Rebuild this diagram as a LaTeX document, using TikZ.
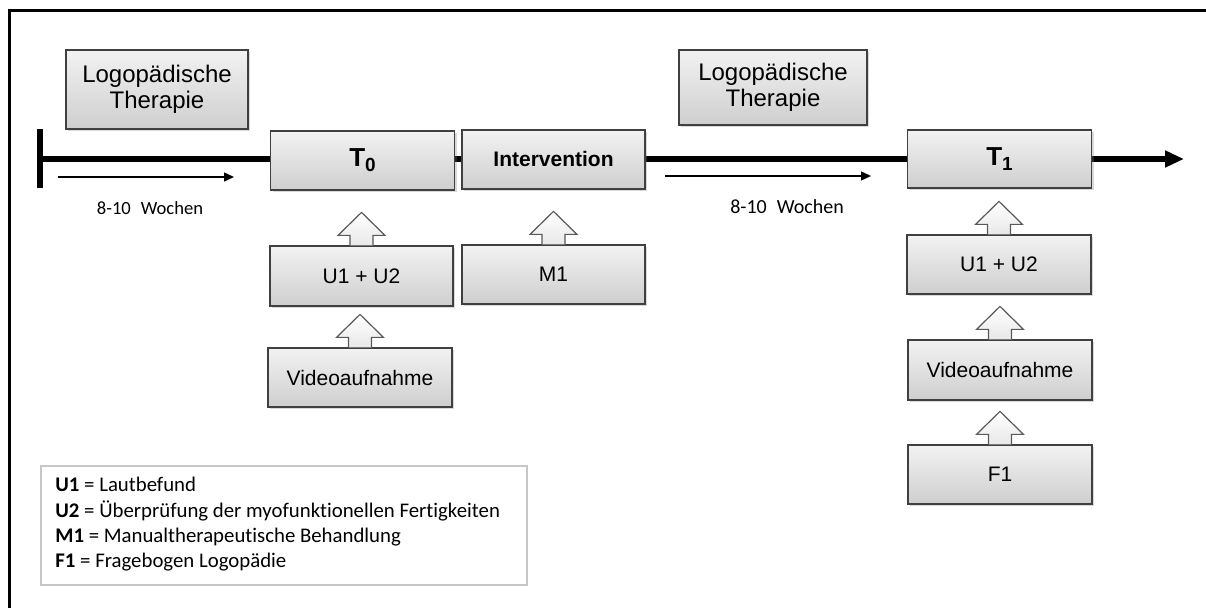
\documentclass[tikz,border=0pt]{standalone}
\usepackage{fontspec}
\setmainfont{Liberation Sans}
\newfontfamily\calfont[Ligatures=NoCommon]{Carlito}
\usetikzlibrary{arrows.meta,shadows,calc}
\begin{document}
\begin{tikzpicture}[x=0.5pt,y=-0.5pt,
  box/.style={draw=black!75, line width=0.6pt, top color=gray!10, bottom color=gray!38,
    drop shadow={opacity=0.3,shadow xshift=1.2pt,shadow yshift=-1.2pt},
    minimum width=92pt, minimum height=29.5pt, inner sep=0pt,
    font=\fontsize{10.5}{12}\selectfont, align=center},
  logobox/.style={box, minimum width=91pt, minimum height=39.5pt, font=\fontsize{12}{12.8}\selectfont},
  blk/.style={draw=black!65, line width=0.6pt, top color=white, bottom color=gray!18, line join=miter},
  timeline/.style={line width=3pt},
  span/.style={line width=0.7pt, -{Triangle[length=5pt,width=4.5pt]}},
  spantext/.style={font=\calfont\fontsize{9.3}{11}\selectfont, inner sep=0pt},
  legline/.style={font=\calfont\fontsize{10.4}{12}\selectfont, inner sep=0pt, anchor=base west},
]
\useasboundingbox (0,0) rectangle (1206,608);
% frame
\coordinate (fr1) at (1206,11); \coordinate (fr2) at (9,11); \coordinate (fr3) at (9,608);
\draw[line width=1.5pt] (fr1) -- (fr2) -- (fr3);
% timeline
\coordinate (tstart) at (40,159); \coordinate (tend) at (1184,159);
\coordinate (bartop) at (40,129); \coordinate (barbot) at (40,188);
\draw[timeline, -{Triangle[length=9.5pt,width=8pt]}] (tstart) -- (tend);
\draw[timeline] (bartop) -- (barbot);
% span arrows
\coordinate (s1a) at (58,177); \coordinate (s1b) at (234,177);
\coordinate (s2a) at (665,176); \coordinate (s2b) at (871,176);
\draw[span] (s1a) -- (s1b);
\draw[span] (s2a) -- (s2b);
\node[spantext] (w1) at (150,208) {8-10\hspace{5pt}Wochen};
\node[spantext, font=\calfont\fontsize{10}{11}\selectfont] (w2) at (787,207) {8-10\hspace{5pt}Wochen};
% boxes
\node[logobox] (logo1) at (157,89.5) {Logopädische\\Therapie};
\node[logobox, minimum width=94pt, minimum height=37.5pt] (logo2) at (773,87.5) {Logopädische\\Therapie};
\node[box, font=\fontsize{13}{14}\selectfont\bfseries] (t0) at (362.5,160.5) {T\raisebox{-2.5pt}{\fontsize{9.5}{10}\selectfont 0}};
\node[box, minimum width=91.5pt, font=\fontsize{10.5}{12}\selectfont\bfseries] (iv) at (553.5,159.5) {Intervention};
\node[box, minimum height=29pt, font=\fontsize{13}{14}\selectfont\bfseries] (t1) at (999.5,159) {T\raisebox{-2.5pt}{\fontsize{9.5}{10}\selectfont 1}};
\node[box, minimum width=91.5pt, minimum height=30pt] (u12a) at (361.5,276) {U1 + U2};
\node[box] (vida) at (360,377.5) {Videoaufnahme};
\node[box, minimum width=91.5pt] (m1) at (553.5,274.5) {M1};
\node[box] (u12b) at (999,264.5) {U1 + U2};
\node[box, minimum height=30pt] (vidb) at (1000,370) {Videoaufnahme};
\node[box] (f1) at (1000,474.5) {F1};
% block arrows
\newcommand\blkarrow[1]{%
  \draw[blk] ($(#1.north)+(-11.5,0)$) -- ($(#1.north)+(-11.5,-10)$) -- ($(#1.north)+(-23.5,-10)$)
    -- ($(#1.north)+(0,-33)$) -- ($(#1.north)+(23.5,-10)$) -- ($(#1.north)+(11.5,-10)$)
    -- ($(#1.north)+(11.5,0)$);}
\blkarrow{u12a}
\blkarrow{vida}
\blkarrow{m1}
\blkarrow{u12b}
\blkarrow{vidb}
\blkarrow{f1}
% legend
\node[draw=gray!45, line width=0.8pt, minimum width=243pt, minimum height=59.5pt, inner sep=0pt] (legend) at (284,525.5) {};
\node[legline] (l1) at (55,492) {\textbf{U1} = Lautbefund};
\node[legline] (l2) at (55,517.5) {\textbf{U2} = Überprüfung der myofunktionellen Fertigkeiten};
\node[legline] (l3) at (55,543) {\textbf{M1} = Manualtherapeutische Behandlung};
\node[legline] (l4) at (55,568) {\textbf{F1} = Fragebogen Logopädie};
\end{tikzpicture}
\end{document}
